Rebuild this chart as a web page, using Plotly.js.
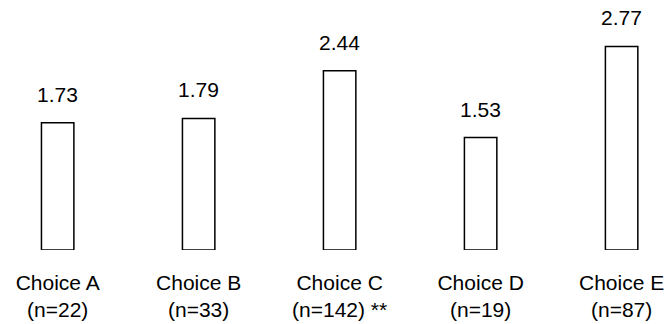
<!DOCTYPE html>
<html>
<head>
<meta charset="utf-8">
<script src="https://cdn.plot.ly/plotly-3.0.1.min.js"></script>
<style>html,body{margin:0;padding:0;background:#fff;}#chart{width:668px;height:324px;}</style>
</head>
<body>
<div id="chart"></div>
<script>
var categories = ["Choice A", "Choice B", "Choice C", "Choice D", "Choice E"];
var nValues = [22, 33, 142, 19, 87];
var significance = ["", "", " **", "", ""];
var means = [1.73, 1.79, 2.44, 1.53, 2.77];
var valueLabels = ["1.73", "1.79", "2.44", "1.53", "2.77"];

var tickText = categories.map(function (c, i) {
  return c + "<br>(n=" + nValues[i] + ")" + significance[i];
});

var FONT = "Liberation Sans, Arial, Helvetica, sans-serif";

var trace = {
  type: "bar",
  x: categories,
  y: means,
  width: categories.map(function () { return 0.23; }),
  marker: { color: "#ffffff", line: { color: "#000000", width: 1.5 } },
  hoverinfo: "none"
};

var annotations = categories.map(function (c, i) {
  return {
    x: c, y: means[i], xref: "x", yref: "y",
    text: valueLabels[i], showarrow: false,
    yanchor: "bottom", yshift: 15,
    font: { family: FONT, size: 21, color: "#000" }
  };
});

var layout = {
  width: 668, height: 324,
  margin: { l: 0, r: 0, t: 0, b: 74, pad: 0 },
  paper_bgcolor: "#ffffff", plot_bgcolor: "#ffffff",
  showlegend: false,
  font: { family: FONT, size: 21, color: "#000" },
  xaxis: {
    type: "category",
    range: [-0.409, 4.329],
    tickmode: "array", tickvals: categories, ticktext: tickText,
    ticks: "", showline: false, showgrid: false, zeroline: false,
    ticklabelstandoff: 18,
    tickfont: { family: FONT, size: 21, color: "#000" },
    fixedrange: true
  },
  yaxis: {
    range: [0, 3.401],
    visible: false, showgrid: false, zeroline: false, fixedrange: true
  },
  annotations: annotations
};

Plotly.newPlot("chart", [trace], layout, { displayModeBar: false, staticPlot: true });
</script>
</body>
</html>
